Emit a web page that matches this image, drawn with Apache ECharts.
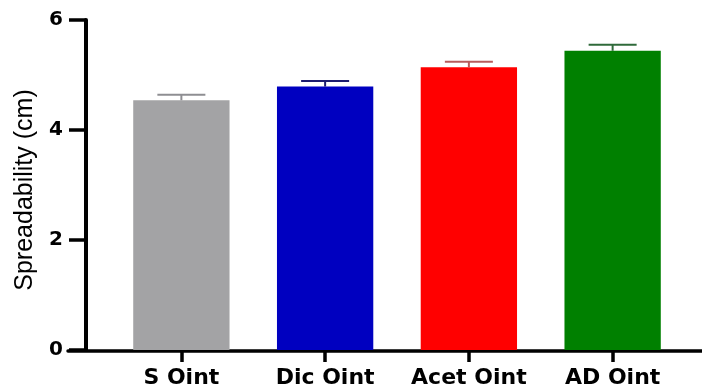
<!DOCTYPE html>
<html>
<head>
<meta charset="utf-8">
<script src="https://cdn.jsdelivr.net/npm/echarts@6/dist/echarts.min.js"></script>
<style>
  html, body { margin: 0; padding: 0; background: #fff; }
</style>
</head>
<body>
<div id="main" style="width:702px;height:389px;"></div>
<script>
const categories = ['S Oint', 'Dic Oint', 'Acet Oint', 'AD Oint']
const means = [4.54, 4.79, 5.14, 5.44]
const errors = [0.10, 0.10, 0.10, 0.11]
const yTicks = [0, 2, 4, 6]
const barColors = ['#a3a3a5', '#0000c0', '#ff0000', '#008000']
const errColors = ['#8e8e92', '#1c1c70', '#b85c5c', '#2f6a3a']

const boldFont = '"DejaVu Sans", sans-serif'
const nameFont = '"Liberation Sans", Arial, sans-serif'

let chart = echarts.init(document.getElementById('main'))
let option = {
    backgroundColor: '#ffffff',
    animation: false,
    grid: [
        { left: 109.5, right: 17.5, top: 20, bottom: 38 },
        // only used to draw the long baseline
        { left: 68, right: 0, top: 20, bottom: 38 },
    ],
    xAxis: [
        {
            type: 'category',
            gridIndex: 0,
            data: categories,
            axisLine: { show: false },
            axisTick: {
                show: true,
                interval: 0,
                alignWithLabel: true,
                length: 12,
                lineStyle: { color: '#000', width: 3.5 },
            },
            axisLabel: {
                interval: 0,
                margin: 17,
                color: '#000',
                fontFamily: boldFont,
                fontWeight: 'bold',
                fontSize: 22,
            },
        },
        {
            type: 'value',
            gridIndex: 1,
            min: 0,
            max: 1,
            axisLine: { show: true, lineStyle: { color: '#000', width: 3.5 } },
            axisTick: { show: false },
            axisLabel: { show: false },
            splitLine: { show: false },
        },
    ],
    yAxis: [
        {
            type: 'value',
            gridIndex: 0,
            min: yTicks[0],
            max: yTicks[yTicks.length - 1],
            interval: 2,
            offset: 23.5,
            name: 'Spreadability (cm)',
            nameLocation: 'middle',
            nameGap: 48,
            nameTextStyle: {
                color: '#000',
                fontFamily: nameFont,
                fontSize: 25,
                padding: [0, 10, 0, 0],
            },
            axisLine: { show: true, lineStyle: { color: '#000', width: 4 } },
            axisTick: {
                show: true,
                length: 17,
                lineStyle: { color: '#000', width: 3.5 },
            },
            axisLabel: {
                margin: 23,
                color: '#000',
                fontFamily: boldFont,
                fontWeight: 'bold',
                fontSize: 20,
            },
            splitLine: { show: false },
        },
        {
            type: 'value',
            gridIndex: 1,
            show: false,
        },
    ],
    series: [
        {
            type: 'bar',
            xAxisIndex: 0,
            yAxisIndex: 0,
            barWidth: '67%',
            data: means.map((v, i) => ({ value: v, itemStyle: { color: barColors[i] } })),
        },
        {
            type: 'custom',
            xAxisIndex: 0,
            yAxisIndex: 0,
            z: 5,
            data: means.map((v, i) => [i, v, errors[i]]),
            renderItem: function (params, api) {
                let i = api.value(0)
                let top = api.coord([i, api.value(1) + api.value(2)])
                let base = api.coord([i, api.value(1)])
                let half = api.size([1, 0])[0] * 0.167
                let style = { stroke: errColors[params.dataIndex], lineWidth: 2, fill: null }
                return {
                    type: 'group',
                    children: [
                        { type: 'line', shape: { x1: base[0], y1: base[1], x2: top[0], y2: top[1] }, style: style },
                        { type: 'line', shape: { x1: top[0] - half, y1: top[1], x2: top[0] + half, y2: top[1] }, style: style },
                    ],
                }
            },
        },
    ],
}
chart.setOption(option)
</script>
</body>
</html>
